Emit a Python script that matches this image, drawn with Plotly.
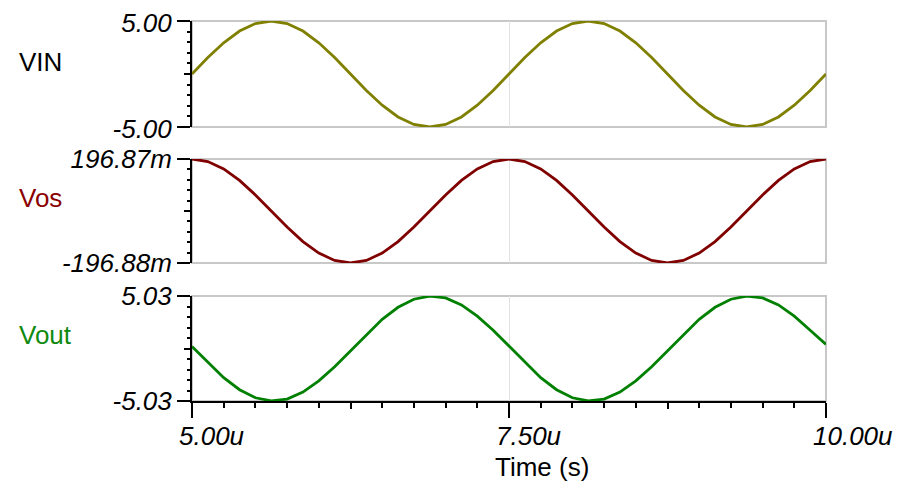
import plotly.graph_objects as go

# ---- data (time in microseconds) ----
time_us = [5.0, 5.125, 5.25, 5.375, 5.5, 5.625, 5.75, 5.875, 6.0, 6.125,
           6.25, 6.375, 6.5, 6.625, 6.75, 6.875, 7.0, 7.125, 7.25, 7.375,
           7.5, 7.625, 7.75, 7.875, 8.0, 8.125, 8.25, 8.375, 8.5, 8.625,
           8.75, 8.875, 9.0, 9.125, 9.25, 9.375, 9.5, 9.625, 9.75, 9.875, 10.0]

vin = [0.00, 1.55, 2.94, 4.05, 4.76, 5.00, 4.76, 4.05, 2.94, 1.55,
       0.00, -1.55, -2.94, -4.05, -4.76, -5.00, -4.76, -4.05, -2.94, -1.55,
       0.00, 1.55, 2.94, 4.05, 4.76, 5.00, 4.76, 4.05, 2.94, 1.55,
       0.00, -1.55, -2.94, -4.05, -4.76, -5.00, -4.76, -4.05, -2.94, -1.55, 0.00]

vos_mv = [196.87, 187.2, 159.3, 115.7, 60.8, 0.0, -60.8, -115.7, -159.3, -187.2,
          -196.88, -187.2, -159.3, -115.7, -60.8, 0.0, 60.8, 115.7, 159.3, 187.2,
          196.87, 187.2, 159.3, 115.7, 60.8, 0.0, -60.8, -115.7, -159.3, -187.2,
          -196.88, -187.2, -159.3, -115.7, -60.8, 0.0, 60.8, 115.7, 159.3, 187.2, 196.87]

vout = [0.20, -1.35, -2.80, -3.95, -4.72, -5.02, -4.84, -4.18, -3.10, -1.75,
        -0.20, 1.35, 2.80, 3.95, 4.72, 5.02, 4.84, 4.18, 3.10, 1.75,
        0.20, -1.35, -2.80, -3.95, -4.72, -5.02, -4.84, -4.18, -3.10, -1.75,
        -0.20, 1.35, 2.80, 3.95, 4.72, 5.02, 4.84, 4.18, 3.10, 1.75, 0.40]

x_tickvals = [5.0, 7.5, 10.0]
x_ticktext = ["5.00u", "7.50u", "10.00u"]
x_midticks = [6.25, 8.75]

vin_range = [-5.0, 5.0]
vin_ticktext = ["-5.00", "5.00"]
vos_range = [-196.88, 196.87]
vos_ticktext = ["-196.88m", "196.87m"]
vout_range = [-5.03, 5.03]
vout_ticktext = ["-5.03", "5.03"]

names = ["VIN", "Vos", "Vout"]
line_colors = ["#808000", "#800000", "#008000"]
label_colors = ["#000000", "#8b0000", "#0f8a0f"]

# ---- layout geometry (page body adds an 8px offset) ----
OFF = 8
W, H = 903 - OFF, 487 - OFF
PL, PR, PT, PB = 192, 826, 21, 401          # plot area in window pixels
L, R, T, B = PL - OFF, (W + OFF) - PR, PT - OFF, (H + OFF) - PB
PW, PH = PR - PL, PB - PT


def ypaper(py):
    return (PB - py) / PH


def xpaper(px):
    return (px - PL) / PW


domains = [[ypaper(127), 1.0], [ypaper(263), ypaper(159)], [0.0, ypaper(296)]]
label_y = [ypaper(62), ypaper(198), ypaper(335)]

FONT = "Liberation Sans, Arial, sans-serif"
tick_font = dict(family=FONT, size=26, color="black", style="italic")
FRAME = "#c8c8c8"

fig = go.Figure()

series = [vin, vos_mv, vout]
ranges = [vin_range, vos_range, vout_range]
ticktexts = [vin_ticktext, vos_ticktext, vout_ticktext]

for i in range(3):
    n = i + 1
    xa = "x" if n == 1 else f"x{n}"
    ya = "y" if n == 1 else f"y{n}"
    fig.add_trace(go.Scatter(x=time_us, y=series[i], mode="lines",
                             line=dict(color=line_colors[i], width=2.8),
                             xaxis=xa, yaxis=ya, showlegend=False,
                             hoverinfo="skip"))
    lo, hi = ranges[i]
    yk = "yaxis" if n == 1 else f"yaxis{n}"
    xk = "xaxis" if n == 1 else f"xaxis{n}"
    fig.layout[yk] = dict(domain=domains[i], anchor=xa, range=[lo, hi],
                          automargin=False, ticklabeloverflow="allow",
                          ticklabelshift=(2 if n == 1 else 0),
                          tickmode="array", tickvals=[lo, hi], ticktext=ticktexts[i],
                          ticks="outside", ticklen=13, tickwidth=2, tickcolor="black",
                          showline=True, linecolor="black", linewidth=2,
                          showgrid=False, zeroline=False, tickfont=tick_font,
                          minor=dict(tick0=lo, dtick=(hi - lo) / 10, ticks="outside",
                                     ticklen=3, tickwidth=1.5, tickcolor="black",
                                     showgrid=False))
    fig.layout[xk] = dict(domain=[0, 1], anchor=ya, range=[5.0, 10.0],
                          automargin=False,
                          tickmode="array", tickvals=x_tickvals, ticktext=x_ticktext,
                          showgrid=True, gridcolor="#e2e2e2", gridwidth=1,
                          zeroline=False, showline=False, showticklabels=False,
                          ticks="outside" if n == 3 else "",
                          ticklen=15, tickwidth=2, tickcolor="black")
    if n != 1:
        fig.layout[xk].matches = "x"
    if n == 3:
        fig.layout[xk].update(showline=True, linecolor="black", linewidth=2,
                              minor=dict(dtick=0.25, ticks="outside", ticklen=5,
                                         tickwidth=1.5, tickcolor="black",
                                         showgrid=False))
    # frame (top/right/bottom light gray)
    fig.add_shape(type="rect", xref=f"{xa} domain", yref=f"{ya} domain",
                  x0=0, x1=1, y0=0, y1=1, line=dict(color=FRAME, width=2),
                  layer="below")
    # channel label
    fig.add_annotation(text=names[i], xref="paper", yref="paper",
                       x=xpaper(17), y=label_y[i],
                       xanchor="left", yanchor="middle", showarrow=False,
                       font=dict(family=FONT, size=26, color=label_colors[i]))

# x tick labels: left-aligned just before each major tick
for v, t in zip(x_tickvals, x_ticktext):
    fig.add_annotation(text=t, xref="x3", yref="paper", x=v, y=ypaper(436),
                       xanchor="left", yanchor="middle", xshift=-15,
                       showarrow=False, font=tick_font)

# overlay axes for the medium-length center ticks
for i in range(3):
    n = i + 1
    xa = "x" if n == 1 else f"x{n}"
    ya = "y" if n == 1 else f"y{n}"
    lo, hi = ranges[i]
    oy = f"y{n + 3}"
    fig.add_trace(go.Scatter(x=[None], y=[None], xaxis=xa, yaxis=oy,
                             showlegend=False, hoverinfo="skip"))
    fig.layout[f"yaxis{n + 3}"] = dict(overlaying=ya, anchor=xa, range=[lo, hi],
                                       automargin=False,
                                       side="left", tickmode="array",
                                       tickvals=[(lo + hi) / 2], ticktext=[""],
                                       ticks="outside", ticklen=7, tickwidth=2,
                                       tickcolor="black", showline=False,
                                       showgrid=False, zeroline=False)

fig.add_trace(go.Scatter(x=[None], y=[None], xaxis="x4", yaxis="y3",
                         showlegend=False, hoverinfo="skip"))
fig.layout["xaxis4"] = dict(overlaying="x3", anchor="y3", range=[5.0, 10.0],
                            automargin=False,
                            side="bottom", tickmode="array", tickvals=x_midticks,
                            ticktext=["", ""], ticks="outside", ticklen=7,
                            tickwidth=2, tickcolor="black", showline=False,
                            showgrid=False, zeroline=False)

fig.add_annotation(text="Time (s)", xref="paper", yref="paper",
                   x=xpaper(542), y=ypaper(467),
                   xanchor="center", yanchor="middle", showarrow=False,
                   font=dict(family=FONT, size=26, color="black"))

fig.update_layout(width=W, height=H, margin=dict(l=L, r=R, t=T, b=B),
                  plot_bgcolor="white", paper_bgcolor="white",
                  showlegend=False)

fig.write_html("out.html")
